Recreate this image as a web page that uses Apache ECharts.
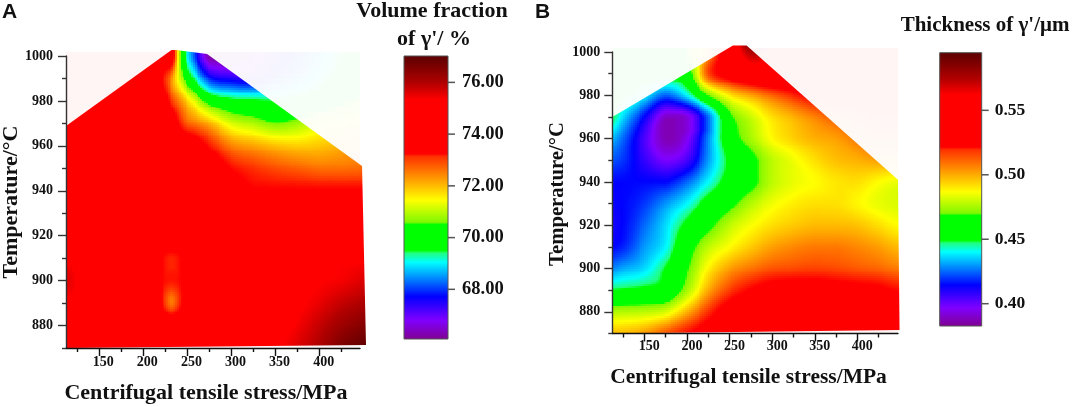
<!DOCTYPE html>
<html><head><meta charset="utf-8">
<style>html,body{margin:0;padding:0;background:#fff}#c{width:1072px;height:407px}</style>
<script src="https://cdn.jsdelivr.net/npm/echarts@6/dist/echarts.min.js"></script>
</head><body><div id="c"></div>
<script>
const yNodes = [1010,1000,990,980,970,960,950,940,930,920,910,900,890,880,870];
const xNodesA = [100,125,150,175,200,215,222,232,243,250,275,300,325,350,375,400,425,450,475];
const volumeRows = [
[74,74,74,74,74,74,74,74,70.5,69,66.2,66.2,66.5,67.2,68,68.8,69.5,70,70.5],
[74,74,74,74,74,74,74,74,70.5,69,66.2,66.2,66.5,67.2,68,68.8,69.5,70,70.5],
[74,74,74,74,74,74,73.2,72.3,71,70,67.9,67.5,67.4,68,68.6,69.2,69.8,70.3,70.6],
[74,74,74,74,74,74,73.8,72.9,72.2,71.7,70.2,69.7,69.6,69.5,69.7,70,70.4,70.7,71],
[74,74,74,74,74,74,74,74,73,72.57,72,71.2,70.9,70.6,70.8,71.2,71.4,71.6,71.8],
[74,74,74,74,74,74,74,74,74,74,73.1,72.34,72.1,71.9,71.8,71.85,72,72.2,72.3],
[74,74,74,74,74,74,74,74,74,74,74,73.2,72.9,72.7,72.57,72.45,72.45,72.5,72.6],
[74,74,74,74,74,74,74,74,74,74,74,73.7,73.3,73.3,73.3,73.3,73.3,73.3,73.3],
[74,74,74,74,74,74,74,74,74,74,74,74,74,74,74,74,74,74,74],
[74,74,74,74,74,74,74,74,74,74,74,74,74,74,74,74,74,74,74],
[75.2,75,74,74,74,74,73.25,73,73.25,74,74,74,74,74,74,75.2,75.2,75.2,75.2],
[75.7,75.3,74,74,74,74,73.25,73.1,73.25,74,74,74,74,74,75,75.3,75.4,75.6,75.7],
[75.2,75,74,74,74,74,73.1,72.4,73.1,74,74,74,74,74.6,75.2,75.5,75.8,76,76.2],
[74,74,74,74,74,74,74,74,74,74,74,74,74.6,75,75.4,75.8,76.2,76.5,76.7],
[74,74,74,74,74,74,74,74,74,74,74,74,74.6,75.2,75.6,76,76.6,76.9,77]
];
const xNodesB = [100,125,150,175,200,225,250,275,300,325,350,375,400,425,450,475];
const thicknessRows = [
[.46,.46,.46,.46,.47,.50,.55,.59,.57,.56,.55,.55,.55,.55,.55,.55],
[.46,.46,.46,.46,.47,.50,.54,.575,.56,.55,.55,.55,.55,.55,.55,.55],
[.455,.455,.455,.455,.46,.5105,.53,.545,.55,.55,.55,.55,.55,.55,.55,.55],
[.45,.45,.44,.425,.44,.47,.49,.4997,.5084,.5169,.525,.53,.53,.53,.53,.53],
[.46,.437,.415,.39,.393,.425,.465,.48,.491,.4974,.504,.51,.515,.52,.52,.52],
[.44,.425,.405,.388,.396,.428,.46,.475,.487,.493,.4974,.4997,.505,.51,.51,.51],
[.425,.42,.408,.398,.405,.43,.452,.465,.478,.485,.491,.4954,.4974,.4997,.5,.5],
[.415,.415,.415,.415,.425,.44,.455,.465,.478,.484,.487,.49,.491,.487,.484,.484],
[.412,.415,.42,.43,.44,.455,.465,.477,.485,.489,.491,.491,.488,.484,.482,.482],
[.41,.415,.425,.437,.452,.465,.478,.486,.491,.494,.496,.496,.495,.491,.487,.487],
[.413,.418,.43,.44,.462,.478,.487,.494,.4997,.503,.505,.505,.503,.5,.496,.496],
[.425,.432,.437,.45,.468,.488,.5,.506,.5105,.512,.513,.512,.51,.508,.505,.505],
[.448,.45,.452,.455,.475,.498,.513,.522,.528,.53,.53,.528,.526,.524,.52,.52],
[.476,.477,.478,.482,.4974,.515,.53,.535,.54,.54,.54,.54,.535,.53,.53,.53],
[.4954,.496,.5,.51,.52,.53,.54,.55,.55,.55,.55,.55,.55,.55,.55,.55]
];
const hullA = [[113.5,870],[452.5,871.3],[448,951],[272.3,1000.9],[237,1002.7],[232,1002.7],[112.4,968.8]];
const hullB = [[113,870],[449.5,871.6],[447.7,941],[270,1003],[254,1003],[112.4,970]];
const tempTicks = [880,900,920,940,960,980,1000];
const tempMinor = [870,890,910,930,950,970,990];
const stressTicks = [150,200,250,300,350,400];
const stressMinor = [125,175,225,275,325,375,425];
const volumeTicks = [68,70,72,74,76];
const thicknessTicks = [0.40,0.45,0.50,0.55];
const stopFrac = [0,.068,.151,.272,.304,.314,.405,.413,.491,.645,.654,.845,.904,1];
const stopCol = ['#800090','#8000ff','#0000ff','#00ffff','#20ff80','#00ff00','#00ff00','#80f800','#ffff00','#ff3000','#ff0000','#ff0000','#b00000','#5a0000'];

// the plot fades orange into red, while the colour bar keeps a small step there
const softFrac = stopFrac.filter((f,i)=>i!==9);
const softCol = stopCol.filter((c,i)=>i!==9);
const rgb = softCol.map(c => [1,3,5].map(i => parseInt(c.slice(i,i+2),16)));
const lut = [];
for (let k=0;k<=1024;k++){const f=k/1024;let s=0;while(s<softFrac.length-2&&f>softFrac[s+1])s++;
  const t=(f-softFrac[s])/(softFrac[s+1]-softFrac[s]);
  lut.push('rgb('+rgb[s].map((v,i)=>Math.round(v+(rgb[s+1][i]-v)*t)).join(',')+')');}
const colorOf=(v,lo,hi)=>lut[Math.max(0,Math.min(1024,Math.round((v-lo)/(hi-lo)*1024)))];

// one data item per grid cell: its x/y extent and its position in the table
function cells(xs,ys){const out=[];
  for(let j=0;j<ys.length-1;j++)for(let i=0;i<xs.length-1;i++)
    out.push([xs[i],xs[i+1],ys[j+1],ys[j],i,j]);
  return out;}

// smooth shading between the read values, held within the four corner values
function cr(a,b,c,d,t){const mn=Math.min(b,c),mx=Math.max(b,c);
  const v=b+.5*t*(c-a+t*(2*a-5*b+4*c-d+t*(3*(b-c)+d-a)));
  const pad=(mx-mn)*.12;return Math.max(mn-pad,Math.min(mx+pad,v));}
function fieldRender(rows,hull,lo,hi,step,alpha){
  const R=(j,i)=>rows[Math.max(0,Math.min(rows.length-1,j))][Math.max(0,Math.min(rows[0].length-1,i))];
  return (params,api)=>{
    const v=i=>api.value(i);
    const a=api.coord([v(0),v(3)]),b=api.coord([v(1),v(2)]);
    const pts=hull.map(p=>api.coord(p));
    const minX=Math.min(...pts.map(p=>p[0])),maxX=Math.max(...pts.map(p=>p[0]));
    const minY=Math.min(...pts.map(p=>p[1])),maxY=Math.max(...pts.map(p=>p[1]));
    if(b[0]<minX||a[0]>maxX||b[1]<minY||a[1]>maxY)return null;
    const ci=v(4),cj=v(5);
    let flat=true;const f0=R(cj,ci);
    for(let q=-1;q<3;q++)for(let p=-1;p<3;p++)if(R(cj+q,ci+p)!==f0)flat=false;
    const kids=[];const W=b[0]-a[0],H=b[1]-a[1];
    const nx=flat?1:Math.ceil(W/step),ny=flat?1:Math.ceil(H/step);
    for(let i=0;i<nx;i++){
      const x0=Math.round(a[0]+W*i/nx),x1=Math.round(a[0]+W*(i+1)/nx);
      const s=(i+.5)/nx;
      const rowVals=[-1,0,1,2].map(q=>cr(R(cj+q,ci-1),R(cj+q,ci),R(cj+q,ci+1),R(cj+q,ci+2),s));
      for(let j=0;j<ny;j++){
        const y0=Math.round(a[1]+H*j/ny),y1=Math.round(a[1]+H*(j+1)/ny);
        const t=(j+.5)/ny;
        const val=cr(rowVals[0],rowVals[1],rowVals[2],rowVals[3],t);
        kids.push({type:'rect',shape:{x:x0,y:y0,width:x1-x0,height:y1-y0},
          style:{fill:colorOf(val,lo,hi),opacity:alpha}});
      }
    }
    return {type:'group',clipPath:{type:'polygon',shape:{points:pts}},children:kids};
  };
}

function barRender(lo,hi){
  return (params,api)=>{
    const a=api.coord([0,hi]),b=api.coord([1,lo]);
    const stops=stopFrac.map((f,i)=>({offset:1-f,color:stopCol[i]})).reverse();
    return {type:'rect',shape:{x:a[0],y:a[1],width:b[0]-a[0],height:b[1]-a[1]},
      style:{fill:new echarts.graphic.LinearGradient(0,0,0,1,stops),stroke:'#555',lineWidth:1}};
  };
}
// one short tick per value on the right edge of the colour bar
function barTick(params,api){
  const p=api.coord([1,api.value(0)]);
  return {type:'rect',shape:{x:p[0],y:p[1]-0.75,width:7,height:1.5},style:{fill:'#555'}};
}

const serif='"Liberation Serif","Times New Roman",serif';
const ink='#111';
function xAxesFor(g,min,max,pad,margin){return [
  {gridIndex:g,type:'value',min,max,position:'bottom',z:5,splitLine:{show:false},
   axisLine:{onZero:false,lineStyle:{color:ink,width:1.4}},
   axisTick:{length:8,customValues:stressTicks,lineStyle:{color:ink,width:1.4}},
   axisLabel:{customValues:stressTicks,margin,padding:[0,0,0,pad],color:ink,fontFamily:serif,fontWeight:'bold',fontSize:14}},
  {gridIndex:g,type:'value',min,max,position:'bottom',z:5,splitLine:{show:false},
   axisLine:{show:false,onZero:false},
   axisTick:{length:4,customValues:stressMinor,lineStyle:{color:ink,width:1.4}},
   axisLabel:{show:false}}];}
function yAxesFor(g,margin){return [
  {gridIndex:g,type:'value',min:870,max:1000,position:'left',z:5,splitLine:{show:false},
   axisLine:{show:true,onZero:false,lineStyle:{color:'#333',width:1.4}},
   axisTick:{length:8,customValues:tempTicks,lineStyle:{color:'#333',width:1.4}},
   axisLabel:{customValues:tempTicks,margin,formatter:v=>String(v),color:ink,fontFamily:serif,fontWeight:'bold',fontSize:14}},
  {gridIndex:g,type:'value',min:870,max:1000,position:'left',z:5,splitLine:{show:false},
   axisLine:{show:false,onZero:false},
   axisTick:{length:4,customValues:tempMinor,lineStyle:{color:'#333',width:1.4}},
   axisLabel:{show:false}}];}
const barX=g=>({gridIndex:g,type:'value',min:0,max:1,show:false});
const barY=(g,lo,hi,ticks,dec,fs,margin)=>({gridIndex:g,type:'value',min:lo,max:hi,position:'right',splitLine:{show:false},z:5,
  axisLine:{show:false,onZero:false},axisTick:{show:false},
  axisLabel:{customValues:ticks,margin,formatter:v=>v.toFixed(dec),color:ink,fontFamily:serif,fontWeight:'bold',fontSize:fs}});

const loA=66.08,hiA=77.02,loB=0.3827,hiB=0.5947;
const xMaxA=445.7,xMaxB=447.7;
const text=(t,x,y,fs,opt)=>Object.assign({type:'text',x,y,silent:true,
  style:{text:t,fill:ink,font:'bold '+fs+'px '+serif,align:'center',verticalAlign:'middle'}},opt||{});
const sans=(t,x,y)=>({type:'text',x,y,silent:true,style:{text:t,fill:'#111',font:'bold 21px "Liberation Sans",Arial,sans-serif',align:'left',verticalAlign:'middle'}});
const tintHull=(xm)=>[[112.4,870],[xm,870],[xm,1001.8],[112.4,1001.8]];

const chart=echarts.init(document.getElementById('c'),null,{renderer:'canvas'});
chart.setOption({
  animation:false,backgroundColor:'#fff',tooltip:{show:false},
  grid:[
    {left:66,top:56,width:294,height:292},
    {left:404,top:56,width:44,height:283},
    {left:612.3,top:52,width:285.7,height:281.5},
    {left:939.7,top:52.7,width:42,height:273.3}
  ],
  xAxis:[...xAxesFor(0,112.4,xMaxA,8,7),barX(1),...xAxesFor(2,112.4,xMaxB,10,6),barX(3)],
  yAxis:[...yAxesFor(0,13),barY(1,loA,hiA,volumeTicks,2,18.5,14),...yAxesFor(2,12),barY(3,loB,hiB,thicknessTicks,2,17.5,13)],
  series:[
    {type:'custom',name:'tintA',xAxisIndex:0,yAxisIndex:0,silent:true,z:1,data:cells(xNodesA,yNodes),
     encode:{x:[0,1],y:[2,3]},renderItem:fieldRender(volumeRows,tintHull(xMaxA),loA,hiA,6,0.04)},
    {type:'custom',name:'Volume fraction',xAxisIndex:0,yAxisIndex:0,silent:true,z:2,data:cells(xNodesA,yNodes),
     encode:{x:[0,1],y:[2,3]},renderItem:fieldRender(volumeRows,hullA,loA,hiA,2,1)},
    {type:'custom',name:'barA',xAxisIndex:2,yAxisIndex:2,silent:true,z:2,data:[[0,1]],renderItem:barRender(loA,hiA)},
    {type:'custom',name:'barTicksA',xAxisIndex:2,yAxisIndex:2,silent:true,z:3,clip:false,data:volumeTicks.map(t=>[t]),encode:{y:0},renderItem:barTick},
    {type:'custom',name:'tintB',xAxisIndex:3,yAxisIndex:3,silent:true,z:1,data:cells(xNodesB,yNodes),
     encode:{x:[0,1],y:[2,3]},renderItem:fieldRender(thicknessRows,tintHull(xMaxB),loB,hiB,6,0.04)},
    {type:'custom',name:'Thickness',xAxisIndex:3,yAxisIndex:3,silent:true,z:2,data:cells(xNodesB,yNodes),
     encode:{x:[0,1],y:[2,3]},renderItem:fieldRender(thicknessRows,hullB,loB,hiB,2,1)},
    {type:'custom',name:'barB',xAxisIndex:5,yAxisIndex:5,silent:true,z:2,data:[[0,1]],renderItem:barRender(loB,hiB)},
    {type:'custom',name:'barTicksB',xAxisIndex:5,yAxisIndex:5,silent:true,z:3,clip:false,data:thicknessTicks.map(t=>[t]),encode:{y:0},renderItem:barTick}
  ],
  graphic:{elements:[
    sans('A',2,12),sans('B',535,12),
    text('Volume fraction',432,11,22),
    text("of γ'/ %",434,39,22),
    text("Thickness of γ'/μm",985,26,21),
    text('Centrifugal tensile stress/MPa',206,393,22),
    text('Centrifugal tensile stress/MPa',748.5,377,21.5),
    text('Temperature/°C',11,202,22,{rotation:Math.PI/2}),
    text('Temperature/°C',558,194,20.7,{rotation:Math.PI/2})
  ]}
});
</script></body></html>
